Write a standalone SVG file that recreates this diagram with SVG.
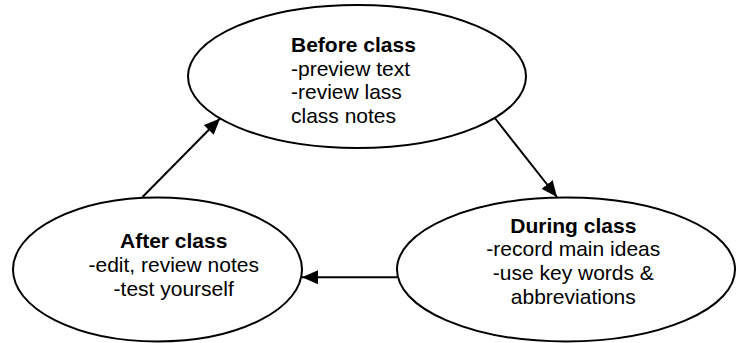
<svg xmlns="http://www.w3.org/2000/svg" width="743" height="343" viewBox="0 0 743 343">
<style>
.node ellipse{fill:#fff;stroke:#000;stroke-width:2}
text{font-family:"Liberation Sans",Arial,sans-serif;font-size:21px;fill:#000}
.b{font-weight:bold}
.c{text-anchor:middle}
.conn line{stroke:#000;stroke-width:2}
</style>
<defs>
<marker id="ah" markerWidth="8" markerHeight="7" refX="8" refY="3.5" orient="auto" markerUnits="strokeWidth">
<path d="M0,0 L8,3.5 L0,7 Z" fill="#000"/>
</marker>
</defs>
<rect width="743" height="343" fill="#fff"/>
<g class="conn">
<line x1="142.5" y1="197" x2="220" y2="118.5" marker-end="url(#ah)"/>
<line x1="494" y1="117" x2="557" y2="197" marker-end="url(#ah)"/>
<line x1="397" y1="277.3" x2="302" y2="277.3" marker-end="url(#ah)"/>
</g>
<g id="before" class="node">
<ellipse cx="357" cy="76.5" rx="169" ry="71.5"/>
<text x="291" y="52" class="b">Before class</text>
<text x="291" y="75.5">-preview text</text>
<text x="291" y="99">-review lass</text>
<text x="291" y="122.5">class notes</text>
</g>
<g id="during" class="node">
<ellipse cx="566" cy="269.5" rx="169" ry="72"/>
<text x="573.3" y="232.5" class="b c">During class</text>
<text x="573.3" y="256.2" class="c">-record main ideas</text>
<text x="573.3" y="280" class="c">-use key words &amp;</text>
<text x="573.3" y="303.7" class="c">abbreviations</text>
</g>
<g id="after" class="node">
<ellipse cx="157.5" cy="269.5" rx="144.5" ry="72"/>
<text x="173.7" y="248.3" class="b c">After class</text>
<text x="173.7" y="272.3" class="c">-edit, review notes</text>
<text x="173.7" y="295.7" class="c">-test yourself</text>
</g>
</svg>
